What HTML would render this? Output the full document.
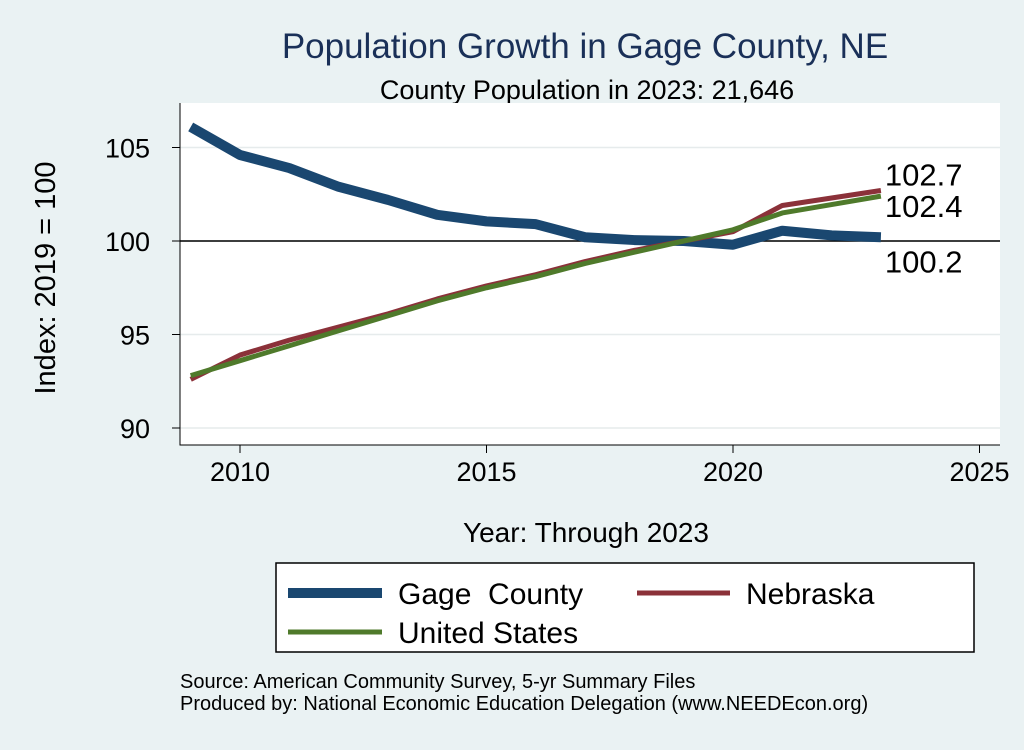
<!DOCTYPE html>
<html><head><meta charset="utf-8"><style>
body{margin:0;background:#eaf2f3;font-family:"Liberation Sans",Arial,sans-serif}
svg text{font-family:"Liberation Sans",Arial,sans-serif;white-space:pre}
</style></head><body>
<svg id="c" width="1024" height="745">
<rect x="0" y="0" width="1024" height="745" fill="#eaf2f3"/>
<text x="585" y="58" font-size="35" fill="#1a3058" text-anchor="middle">Population Growth in Gage County, NE</text>
<text x="587" y="99" font-size="27" fill="#000" text-anchor="middle">County Population in 2023: 21,646</text>
<rect x="180" y="103" width="820" height="342" fill="#fff"/>
<g id="grid"></g>
<g id="axes"></g>
<g id="series"></g>
<text transform="translate(55,278) rotate(-90)" font-size="29" text-anchor="middle">Index: 2019 = 100</text>
<text x="586" y="542" font-size="28" text-anchor="middle">Year: Through 2023</text>
<g>
<rect x="276" y="563" width="698" height="89" fill="#fff" stroke="#000" stroke-width="1.5"/>
<line x1="288" y1="593" x2="382" y2="593" stroke="#1a4770" stroke-width="10"/>
<text x="398" y="604" font-size="30">Gage  County</text>
<line x1="637" y1="593" x2="730" y2="593" stroke="#8b3139" stroke-width="5"/>
<text x="746" y="604" font-size="30">Nebraska</text>
<line x1="288" y1="632" x2="382" y2="632" stroke="#4f7a2b" stroke-width="5"/>
<text x="398" y="643" font-size="30">United States</text>
</g>
<text x="180" y="688" font-size="20">Source: American Community Survey, 5-yr Summary Files</text>
<text x="180" y="710" font-size="20">Produced by: National Economic Education Delegation (www.NEEDEcon.org)</text>
</svg>
<script>
const years=[2009,2010,2011,2012,2013,2014,2015,2016,2017,2018,2019,2020,2021,2022,2023];
const gage=[106.1,104.6,103.9,102.9,102.2,101.4,101.05,100.9,100.2,100.05,100,99.8,100.55,100.3,100.2];
const nebraska=[92.6,93.9,94.7,95.4,96.1,96.9,97.6,98.2,98.9,99.5,100,100.5,101.9,102.3,102.7];
const us=[92.8,93.6,94.4,95.2,96.0,96.8,97.5,98.1,98.8,99.4,100,100.6,101.5,101.95,102.4];
const xTicks=[2010,2015,2020,2025];
const yTicks=[90,95,100,105];
const endLabels=["102.7","102.4","100.2"];
const X=v=>240+(v-2010)*49.3;
const Y=v=>241-(v-100)*18.7;
const NS="http://www.w3.org/2000/svg";
function mk(t,a,p){const e=document.createElementNS(NS,t);for(const k in a)e.setAttribute(k,a[k]);p.appendChild(e);return e;}
const grid=document.getElementById('grid'),axes=document.getElementById('axes'),ser=document.getElementById('series');
yTicks.forEach(v=>{
 const g=mk('line',{x1:180,x2:1000,y1:Y(v),y2:Y(v),stroke:'#e6ebec','stroke-width':1.5},grid);
 
 
 const t=mk('line',{x1:172,x2:180,y1:Y(v),y2:Y(v),stroke:'#000'},axes);
 
 
 const l=mk('text',{x:150,y:Y(v)+10,'font-size':27,'text-anchor':'end'},axes);l.textContent=v;
 
 
});
xTicks.forEach(v=>{
 const t=mk('line',{x1:X(v),x2:X(v),y1:445,y2:453,stroke:'#000'},axes);
 
 
 const l=mk('text',{x:X(v),y:481,'font-size':27,'text-anchor':'middle'},axes);l.textContent=v;
 
 
});
const ax=mk('path',{d:'M180,103 V445 H1000',fill:'none',stroke:'#000','stroke-width':1},axes);


const ref=mk('line',{x1:180,x2:1000,y1:Y(100),y2:Y(100),stroke:'#000','stroke-width':1.5},axes);


function line(data,col,w,name){
 const d=data.map((v,i)=>(i?'L':'M')+X(years[i])+','+Y(v)).join(' ');
 const p=mk('path',{d:d,fill:'none',stroke:col,'stroke-width':w,'stroke-linejoin':'round'},ser);
 
 
}
line(gage,'#1a4770',10,'gage-county-line');
line(nebraska,'#8b3139',5,'nebraska-line');
line(us,'#4f7a2b',5,'us-line');
const last=years.length-1;
[[nebraska[last],endLabels[0],-5],[us[last],endLabels[1],21],[gage[last],endLabels[2],35]].forEach((a,i)=>{
 const t=mk('text',{x:X(years[last])+4,y:Y(a[0])+a[2],'font-size':31},ser);t.textContent=a[1];
 
 
});
</script>
</body></html>
